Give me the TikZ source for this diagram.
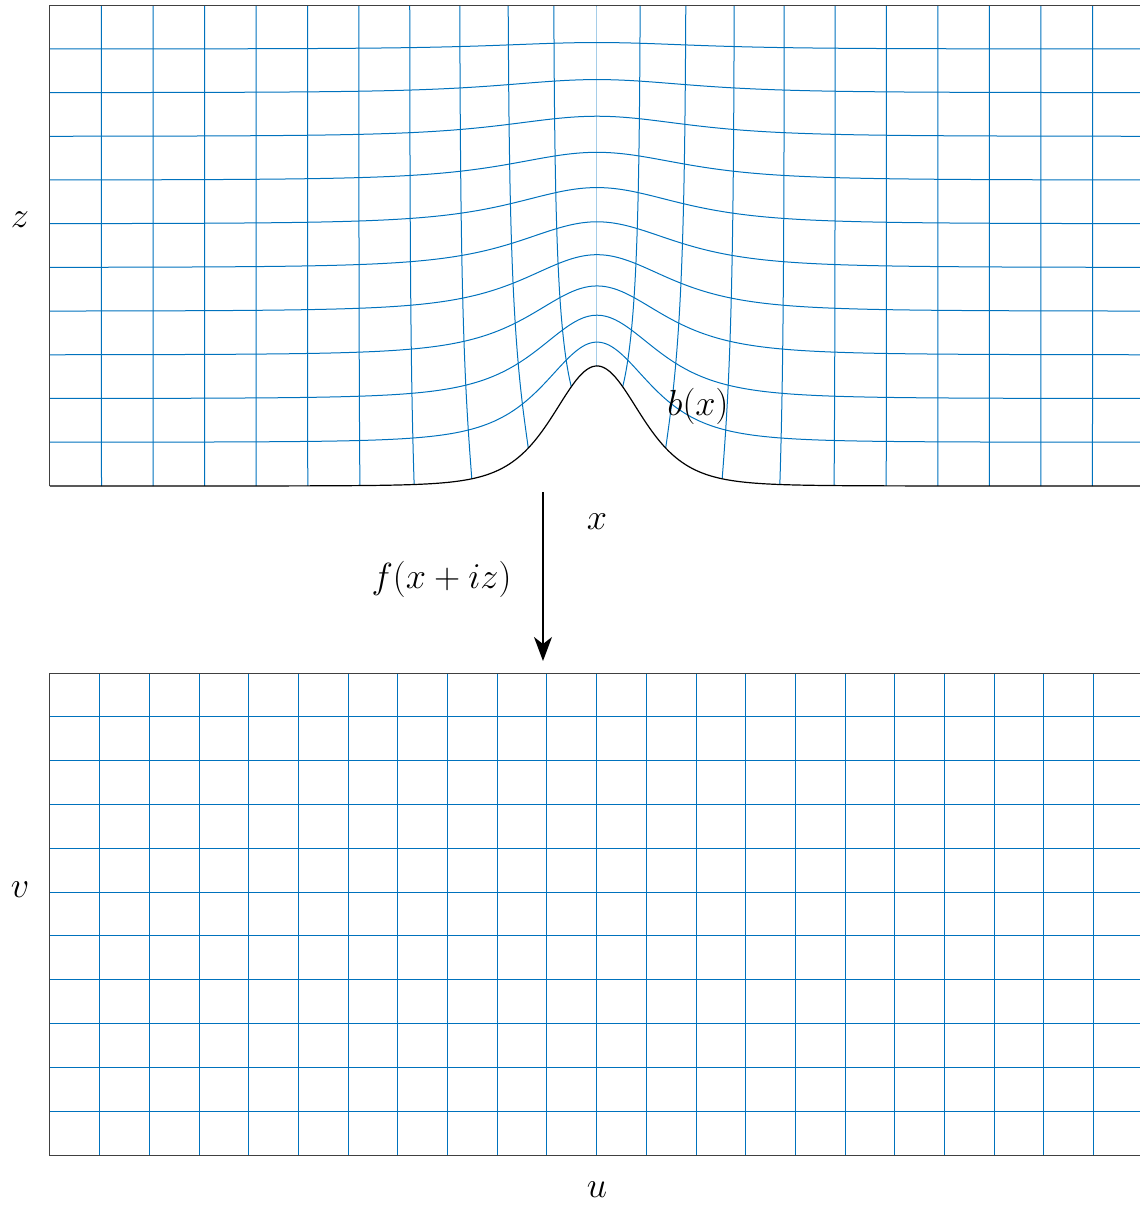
\documentclass[tikz,border=0pt]{standalone}
\usetikzlibrary{arrows.meta}
\definecolor{gridblue}{RGB}{0,114,189}
\begin{document}
\begin{tikzpicture}[x=50pt,y=50pt,
  declare function={
    Bell(\x,\s,\q)=exp(-(\q)*ln(1+(\x)*(\x)/(2*(\q)*(\s)*(\s))));
    Xs(\u,\v)=(\u)-0.205*tanh((\u)/1.25)-0.417*exp(-(\v)/1.3)*(\u)*exp(max(-9,-(\u)*(\u)/1.445));
    Av(\v)=1.2*sinh(0.17*(11-(\v)/0.437))/sinh(1.87);
    Sv(\v)=0.41+0.068*((\v)/0.437)-0.0022*((\v)/0.437)*((\v)/0.437);
    Qv(\v)=2+exp(max(-9,-(\v)/0.15));
    Zs(\u,\v)=(\v)+Av(\v)*Bell(Xs(\u,\v),Sv(\v),Qv(\v));
  },
  gridline/.style={gridblue, line width=0.5pt},
  frameline/.style={black!75, line width=0.5pt},
  lbl/.style={font=\LARGE, inner sep=0pt},
]
\useasboundingbox (-5.97,-7.21) rectangle (5.43,4.86);

% ---------- top panel: distorted grid ----------
\begin{scope}
  \clip (-5.47,-0.2) rectangle (5.43,4.81);
  \foreach \k in {1,...,10}{
    \draw[gridline] plot[variable=\t, domain=-5.8:5.8, samples=161, smooth]
      ({Xs(\t,\k*0.437)},{Zs(\t,\k*0.437)});
  }
  \foreach \n in {-10,...,10}{
    \draw[gridline] plot[variable=\t, domain=0:4.81, samples=40, smooth]
      ({Xs(\n*0.516,\t)},{Zs(\n*0.516,\t)});
  }
  \draw[black, line width=0.6pt] plot[variable=\t, domain=-5.8:5.8, samples=241, smooth]
      ({Xs(\t,0)},{Zs(\t,0)});
\end{scope}
\draw[frameline] (-5.47,0) -- (-5.47,4.81) -- (5.43,4.81);

% ---------- bottom panel: uniform grid ----------
\foreach \n in {1,...,21}{
  \draw[gridline] (-5.47+\n*0.497,-1.87) -- (-5.47+\n*0.497,-6.69);
}
\foreach \k in {1,...,10}{
  \draw[gridline] (-5.47,-1.87-\k*0.438) -- (5.43,-1.87-\k*0.438);
}
\draw[frameline] (5.43,-1.87) -- (-5.47,-1.87) -- (-5.47,-6.69) -- (5.43,-6.69);

% ---------- labels and arrow ----------
\node[lbl] (zlab) at (-5.77,2.66) {\scalebox{1.05}{$z$}};
\node[lbl] (xlab) at (0,-0.355) {\scalebox{1.05}{$x$}};
\node[lbl] (blab) at (1.01,0.80) {\scalebox{1.05}{$b(x)$}};
\node[lbl] (flab) at (-1.555,-0.935) {\scalebox{1.05}{$f(x+iz)$}};
\node[lbl] (vlab) at (-5.77,-4.04) {\scalebox{1.05}{$v$}};
\node[lbl] (ulab) at (0,-7.04) {\scalebox{1.05}{$u$}};
\coordinate (arrS) at (-0.54,-0.06);
\coordinate (arrE) at (-0.54,-1.75);
\draw[line width=0.75pt, -{Stealth[length=12pt,width=9pt,inset=3.5pt]}] (arrS) -- (arrE);
\end{tikzpicture}
\end{document}
